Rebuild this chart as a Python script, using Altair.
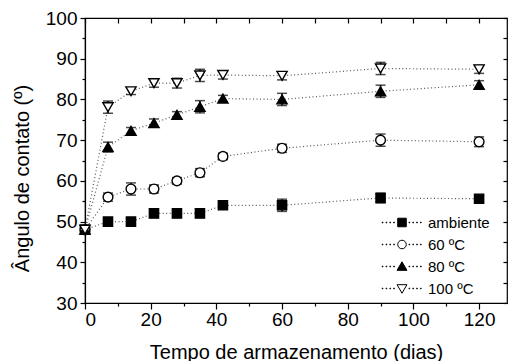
import altair as alt
import pandas as pd

days = [0, 7, 14, 21, 28, 35, 42, 60, 90, 120]
series_names = ["ambiente", "60 ºC", "80 ºC", "100 ºC"]

amb = [48, 50, 50, 52, 52, 52, 54, 54, 55.8, 55.6]
amb_err = [1.0, 0.9, 0.8, 1.0, 1.0, 1.0, 0.8, 1.5, 1.2, 0.8]
c60 = [48, 56, 58, 58, 60, 62, 66, 68, 70, 69.6]
c60_err = [1.0, 1.0, 1.5, 1.0, 0.8, 1.0, 0.8, 1.0, 1.5, 1.2]
c80 = [48, 68.3, 72.3, 74.2, 76.2, 78.2, 80.2, 80, 82, 83.6]
c80_err = [1.0, 1.2, 0.8, 1.0, 0.8, 1.5, 0.8, 1.5, 1.5, 1.0]
c100 = [48, 78.1, 82, 84, 84, 85.9, 86, 85.8, 87.6, 87.4]
c100_err = [1.0, 1.5, 0.8, 1.0, 1.2, 1.5, 1.0, 1.0, 1.5, 1.0]

rows = []
for name, vals, errs in zip(series_names, [amb, c60, c80, c100],
                            [amb_err, c60_err, c80_err, c100_err]):
    for d, v, e in zip(days, vals, errs):
        rows.append({"series": name, "day": d, "val": v, "lo": v - e, "hi": v + e})
df = pd.DataFrame(rows)

FONT = "Liberation Sans"
xscale = alt.Scale(domain=[0, 128.5], nice=False, zero=False)
yscale = alt.Scale(domain=[30, 100], nice=False, zero=False)

xaxis = alt.Axis(values=list(range(0, 121, 20)), orient="bottom", grid=False,
                 tickSize=6, labelPadding=1, labelFontSize=19, labelFont=FONT,
                 titleFontSize=20, titleFont=FONT, titleFontWeight="normal",
                 titleY=55, titleBaseline="alphabetic",
                 title="Tempo de armazenamento (dias)", domainColor="black",
                 tickColor="black", labelColor="black", titleColor="black")
yaxis = alt.Axis(values=list(range(30, 101, 10)), orient="left", grid=False,
                 tickSize=5, labelPadding=3, labelFontSize=19, labelFont=FONT,
                 titleFontSize=20, titleFont=FONT, titleFontWeight="normal",
                 titleX=-57, titleY=160, titleBaseline="alphabetic",
                 title="Ângulo de contato (º)", domainColor="black",
                 tickColor="black", labelColor="black", titleColor="black")

base = alt.Chart(df)
X = alt.X("day:Q", scale=xscale, axis=xaxis)
Y = alt.Y("val:Q", scale=yscale, axis=yaxis)

lines = base.mark_line(strokeDash=[1, 2.5], color="#555", strokeWidth=1.2).encode(
    x=X, y=Y, detail="series:N", order="day:Q")
bars = base.mark_rule(color="black", strokeWidth=1.5).encode(
    x="day:Q", y="lo:Q", y2="hi:Q")
cap_lo = base.mark_tick(orient="horizontal", size=10, thickness=1.5, color="black").encode(
    x="day:Q", y="lo:Q")
cap_hi = base.mark_tick(orient="horizontal", size=10, thickness=1.5, color="black").encode(
    x="day:Q", y="hi:Q")

def pts(name, shape, fill, size):
    return base.transform_filter(alt.datum.series == name).mark_point(
        shape=shape, filled=True, fill=fill, stroke="black", strokeWidth=1.4,
        size=size, opacity=1).encode(x="day:Q", y="val:Q")

p_amb = pts("ambiente", "square", "black", 85)
p_60 = pts("60 ºC", "circle", "white", 95)
p_80 = pts("80 ºC", "triangle-up", "black", 105)
p_100 = pts("100 ºC", "triangle-down", "white", 105)

# legend symbols: dotted segment + marker
def dots():
    s = ""
    for x0 in [-4.4, -3.55, -2.7, -1.85, 1.55, 2.4, 3.25, 4.1]:
        s += f"M{x0},-0.08h0.16v0.16h-0.16Z"
    return s

legend_paths = [
    dots() + "M-0.95,-0.95H0.95V0.95H-0.95Z",
    dots() + "M0.95,0A0.95,0.95 0 1,1 -0.95,0A0.95,0.95 0 1,1 0.95,0Z",
    dots() + "M0,-1.05L1.1,0.85H-1.1Z",
    dots() + "M0,1.05L1.1,-0.85H-1.1Z",
]
leg = alt.Legend(orient="none", legendX=309.5, legendY=197, title=None,
                 symbolSize=81, labelFontSize=15, labelFont=FONT, labelColor="black",
                 labelOffset=18.5, rowPadding=6, symbolStrokeWidth=1,
                 symbolStrokeColor="black", padding=0)
legend_layer = base.transform_filter("false").mark_point(
    stroke="black", strokeWidth=1, opacity=1).encode(
    shape=alt.Shape("series:N", scale=alt.Scale(domain=series_names, range=legend_paths), legend=leg),
    fill=alt.Fill("series:N", scale=alt.Scale(domain=series_names,
                  range=["black", "white", "black", "white"]), legend=leg),
    stroke=alt.Stroke("series:N", scale=alt.Scale(domain=series_names,
                      range=["black", "black", "black", "black"]), legend=leg),
)

data_layer = alt.layer(lines, bars, cap_lo, cap_hi, p_amb, p_60, p_80, p_100, legend_layer)

frame = base.mark_point(opacity=0).encode(
    x=alt.X("day:Q", scale=xscale,
            axis=alt.Axis(orient="top", values=list(range(0, 130, 10)), labels=False,
                          domain=False, tickSize=5, offset=-5, title=None, grid=False,
                          tickColor="black")),
    y=alt.Y("val:Q", scale=yscale,
            axis=alt.Axis(orient="right", values=list(range(30, 101, 5)), labels=False,
                          domain=False, tickSize=4, offset=-4, title=None, grid=False,
                          tickColor="black")),
)

minor = base.mark_point(opacity=0).encode(
    x=alt.X("day:Q", scale=xscale,
            axis=alt.Axis(orient="bottom", values=list(range(10, 130, 20)), labels=False,
                          domain=False, tickSize=3, title=None, grid=False,
                          tickColor="black")),
    y=alt.Y("val:Q", scale=yscale,
            axis=alt.Axis(orient="left", values=list(range(35, 100, 10)), labels=False,
                          domain=False, tickSize=3, title=None, grid=False,
                          tickColor="black")),
)

chart = alt.layer(data_layer, frame, minor).resolve_scale(x="independent", y="independent").properties(
    width=422, height=285,
    autosize=alt.AutoSizeParams(type="none"),
    padding={"left": 85, "top": 18, "right": 1, "bottom": 58},
    background="white",
).configure_view(stroke="black", strokeWidth=1.2).configure_axis(
    domainWidth=1.2, tickWidth=1.2)

chart.save("out.html", embed_options={"renderer": "svg", "actions": False})
